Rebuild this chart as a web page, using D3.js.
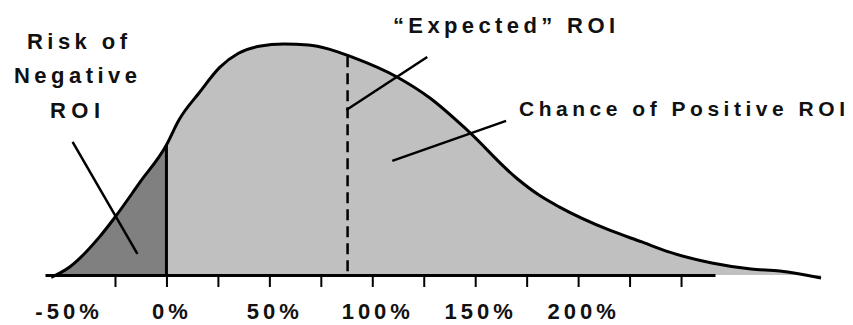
<!DOCTYPE html>
<html>
<head>
<meta charset="utf-8">
<script src="https://cdn.jsdelivr.net/npm/d3@7/dist/d3.min.js"></script>
<style>
  html, body { margin: 0; padding: 0; background: #fff; }
  svg { display: block; }
  text { font-family: "Liberation Sans", Arial, sans-serif; font-weight: bold; fill: #111; }
</style>
</head>
<body>
<script>
// ---- data (ROI in %, relative probability density) ----
const roi     = [-56, -47, -32.5, -25, -13, 0, 6, 16, 26, 35, 45, 57, 69, 79, 90, 112, 128, 146, 170, 181, 191, 215, 231, 244, 265, 284, 298, 318];
const density = [-1, 3.5, 16.5, 25, 40, 56.3, 67, 79, 90, 96, 99, 100, 99.6, 97.8, 94.4, 85.7, 76.6, 62.8, 42, 34.6, 29.4, 19.5, 14.3, 10, 5.2, 2.6, 1.7, -1.3];
const breakEven   = 0;    // ROI where risk ends
const expectedROI = 88;   // "Expected" ROI
const tickValues  = [-25, 0, 25, 50, 75, 100, 125, 150, 175, 200, 225, 250];
const labelValues = [-50, 0, 50, 100, 150, 200];
const labelTexts  = ["-50%", "0%", "50%", "100%", "150%", "200%"];
const axisExtent  = [-59, 266.5];

// annotation leader lines in data units [roi, density]
const leaderRisk     = [[-45.6, 57.6], [-14.1, 9.1]];
const leaderExpected = [[126.7, 94.4], [87.4, 71.4]];
const leaderChance   = [[109.7, 49.4], [165, 66.7]];

const W = 853, H = 325;
const svg = d3.select("body").append("svg").attr("width", W).attr("height", H);

const x = d3.scaleLinear().domain(axisExtent).range([45, 715]);
const y = d3.scaleLinear().domain([0, 100]).range([275, 44]);

const pts = roi.map((r, i) => [r, density[i]]);
const curve = d3.curveMonotoneX;

const area = d3.area().x(d => x(d[0])).y0(y(0)).y1(d => y(d[1])).curve(curve);
const line = d3.line().x(d => x(d[0])).y(d => y(d[1])).curve(curve);

// clip for risk region
svg.append("clipPath").attr("id", "neg")
  .append("rect").attr("x", 0).attr("y", 0).attr("width", x(breakEven)).attr("height", H);

svg.append("path").attr("d", area(pts)).attr("fill", "#c0c0c0");
svg.append("path").attr("d", area(pts)).attr("fill", "#808080").attr("clip-path", "url(#neg)");

const curvePath = svg.append("path").attr("d", line(pts))
  .attr("fill", "none").attr("stroke", "#000").attr("stroke-width", 3).attr("stroke-linejoin", "round");

// find curve height at a given x pixel
function curveYAt(px) {
  const node = curvePath.node();
  const L = node.getTotalLength();
  let lo = 0, hi = L;
  for (let i = 0; i < 40; i++) {
    const mid = (lo + hi) / 2;
    if (node.getPointAtLength(mid).x < px) lo = mid; else hi = mid;
  }
  return node.getPointAtLength((lo + hi) / 2).y;
}

// break-even line
svg.append("line")
  .attr("x1", x(breakEven)).attr("x2", x(breakEven))
  .attr("y1", y(0)).attr("y2", curveYAt(x(breakEven)))
  .attr("stroke", "#000").attr("stroke-width", 3);

// expected dashed line
svg.append("line")
  .attr("x1", x(expectedROI)).attr("x2", x(expectedROI))
  .attr("y1", curveYAt(x(expectedROI)) + 1).attr("y2", y(0))
  .attr("stroke", "#000").attr("stroke-width", 2.5).attr("stroke-dasharray", "11,6");

// leader lines
[leaderRisk, leaderExpected, leaderChance].forEach(seg => {
  svg.append("line")
    .attr("x1", x(seg[0][0])).attr("y1", y(seg[0][1]))
    .attr("x2", x(seg[1][0])).attr("y2", y(seg[1][1]))
    .attr("stroke", "#000").attr("stroke-width", 2.5);
});

// redraw curve on top
curvePath.raise();

// axis with ticks
const axisG = svg.append("g").attr("transform", `translate(0,${y(0)})`)
  .call(d3.axisBottom(x).tickValues(tickValues).tickFormat("").tickSize(12).tickSizeOuter(0));
axisG.select(".domain").attr("stroke", "#000").attr("stroke-width", 3);
axisG.selectAll(".tick line").attr("stroke", "#000").attr("stroke-width", 2);

// tick labels
const labG = svg.append("g").attr("transform", `translate(0,${y(0)})`)
  .call(d3.axisBottom(x).tickValues(labelValues).tickFormat((d, i) => labelTexts[i]).tickSize(0));
labG.select(".domain").remove();
labG.selectAll(".tick text")
  .attr("y", 44).attr("dy", 0).attr("dx", 5)
  .style("font-size", "22px").style("letter-spacing", "4px")
  .style("font-family", "\"Liberation Sans\", Arial, sans-serif").style("font-weight", "bold")
  .attr("fill", "#111");

// annotations
const notes = [
  { t: "Risk of",               x: 27,  y: 49,  w: 100, s: 22 },
  { t: "Negative",              x: 14,  y: 83,  w: 123, s: 22 },
  { t: "ROI",                   x: 50,  y: 118, w: 50,  s: 22 },
  { t: "\u201CExpected\u201D ROI", x: 393, y: 33,  w: 222, s: 22 },
  { t: "Chance of Positive ROI",x: 519, y: 116, w: 326, s: 21 }
];
svg.selectAll("text.note").data(notes).enter().append("text")
  .attr("class", "note")
  .attr("x", d => d.x).attr("y", d => d.y)
  .attr("textLength", d => d.w).attr("lengthAdjust", "spacing")
  .style("font-size", d => d.s + "px")
  .text(d => d.t);
</script>
</body>
</html>
